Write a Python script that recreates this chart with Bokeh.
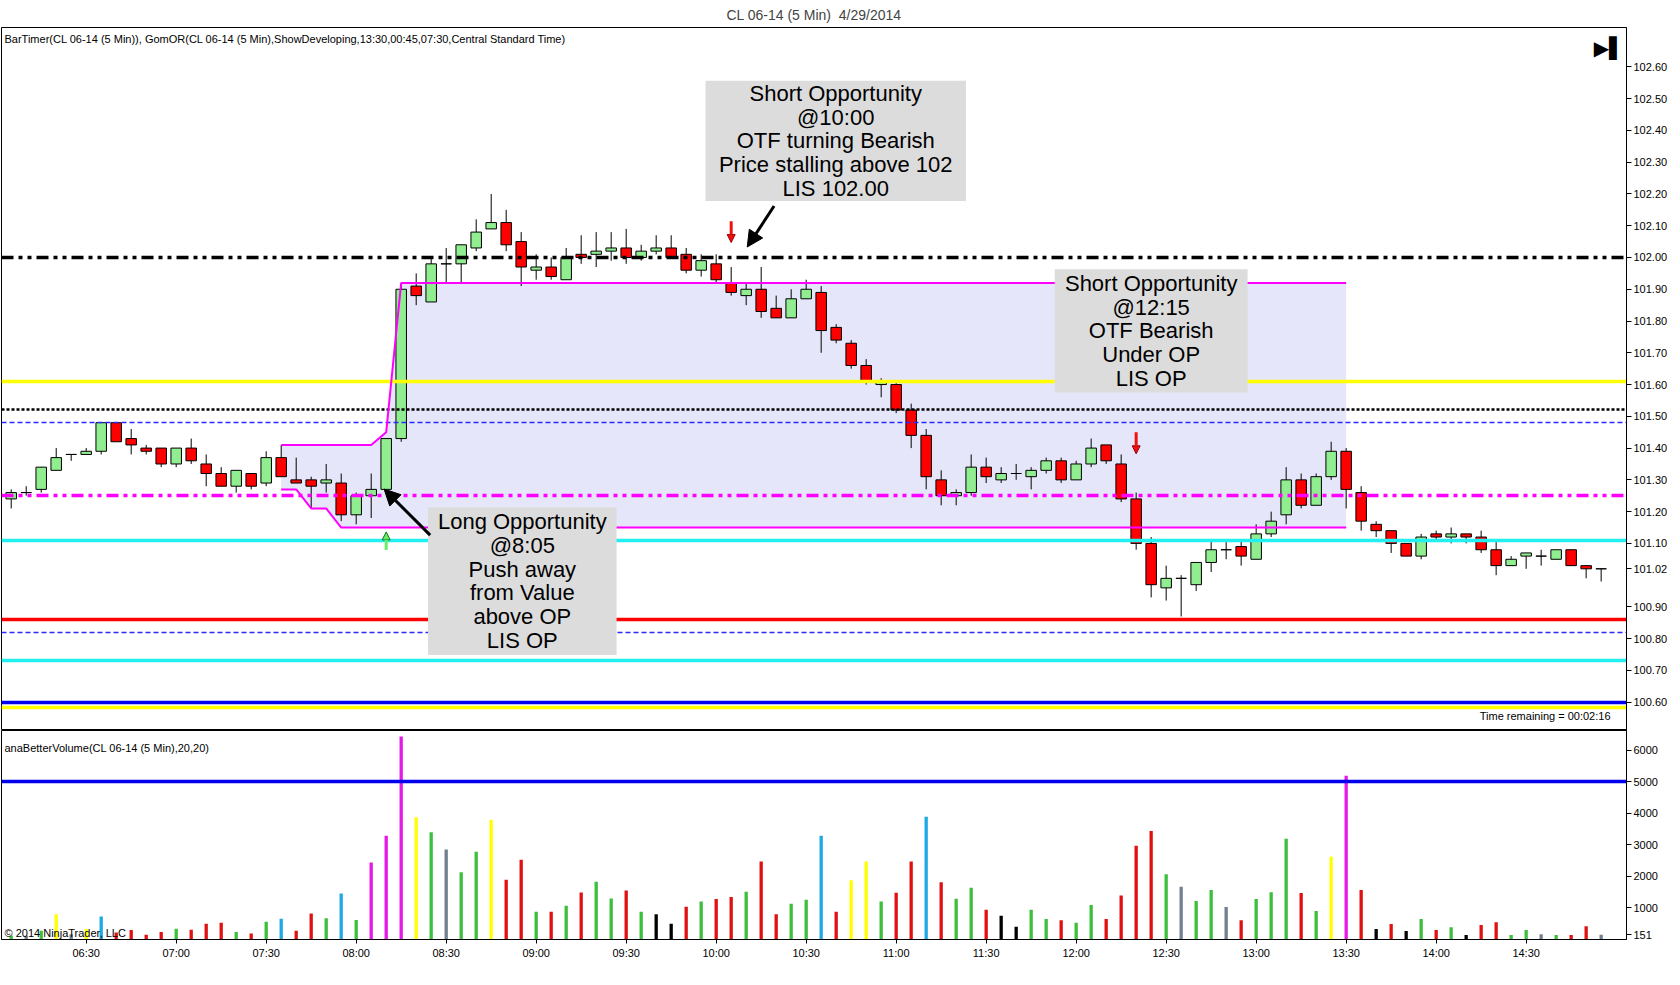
from bokeh.plotting import figure
from bokeh.models import (ColumnDataSource, FixedTicker, Label, Arrow, NormalHead,
                          Range1d, PrintfTickFormatter)
from bokeh.layouts import column
from bokeh.embed import file_html
from bokeh.resources import INLINE
from bokeh.core.properties import value

# ---------------- texts ----------------
TITLE = "CL 06-14 (5 Min)\u00a0\u00a04/29/2014"
PRICE_INDICATORS = ("BarTimer(CL 06-14 (5 Min)), GomOR(CL 06-14 (5 Min),ShowDeveloping,"
                    "13:30,00:45,07:30,Central Standard Time)")
VOLUME_INDICATOR = "anaBetterVolume(CL 06-14 (5 Min),20,20)"
COPYRIGHT = "\u00a9 2014 NinjaTrader, LLC"
TIME_REMAINING = "Time remaining = 00:02:16"

# ---------------- data ----------------
FIRST_BAR_MINUTES = 6 * 60 + 5   # 06:05
BAR_MINUTES = 5

OPEN = [101.24, 101.26, 101.27, 101.33, 101.38, 101.38, 101.39, 101.48, 101.43, 101.40,
        101.40, 101.35, 101.40, 101.35, 101.32, 101.28, 101.32, 101.29, 101.37, 101.30,
        101.30, 101.29, 101.29, 101.19, 101.25, 101.27, 101.43, 101.91, 101.86, 101.98,
        101.98, 102.03, 102.09, 102.11, 102.05, 101.96, 101.97, 101.93, 102.01, 102.01,
        102.02, 102.03, 102.00, 102.02, 102.03, 102.01, 101.96, 101.98, 101.92, 101.88,
        101.90, 101.84, 101.81, 101.87, 101.89, 101.78, 101.73, 101.66, 101.60, 101.60,
        101.52, 101.44, 101.30, 101.25, 101.26, 101.34, 101.30, 101.32, 101.31, 101.33,
        101.36, 101.30, 101.35, 101.41, 101.35, 101.24, 101.10, 100.96, 100.99, 100.97,
        101.04, 101.08, 101.09, 101.05, 101.13, 101.19, 101.30, 101.22, 101.31, 101.39,
        101.26, 101.16, 101.14, 101.10, 101.06, 101.13, 101.12, 101.13, 101.12, 101.08,
        101.03, 101.06, 101.06, 101.05, 101.08, 101.03, 101.02]
HIGH = [101.27, 101.28, 101.34, 101.40, 101.38, 101.40, 101.48, 101.48, 101.46, 101.41,
        101.40, 101.40, 101.43, 101.38, 101.34, 101.33, 101.32, 101.39, 101.41, 101.37,
        101.31, 101.35, 101.32, 101.26, 101.32, 101.43, 101.92, 101.95, 102.00, 102.03,
        102.04, 102.12, 102.20, 102.15, 102.08, 102.01, 102.00, 102.03, 102.07, 102.08,
        102.08, 102.09, 102.04, 102.07, 102.07, 102.03, 102.01, 102.01, 101.97, 101.92,
        101.97, 101.88, 101.90, 101.93, 101.91, 101.79, 101.74, 101.68, 101.62, 101.61,
        101.54, 101.46, 101.33, 101.27, 101.38, 101.37, 101.34, 101.35, 101.34, 101.37,
        101.37, 101.36, 101.43, 101.41, 101.38, 101.26, 101.12, 101.03, 101.00, 101.04,
        101.11, 101.11, 101.11, 101.16, 101.20, 101.34, 101.32, 101.32, 101.42, 101.40,
        101.28, 101.17, 101.14, 101.10, 101.13, 101.14, 101.15, 101.13, 101.14, 101.11,
        101.06, 101.07, 101.08, 101.08, 101.08, 101.03, 101.02]
LOW = [101.21, 101.25, 101.26, 101.33, 101.36, 101.38, 101.38, 101.42, 101.38, 101.38,
       101.34, 101.34, 101.35, 101.28, 101.28, 101.26, 101.27, 101.28, 101.31, 101.29,
       101.21, 101.26, 101.17, 101.16, 101.18, 101.26, 101.42, 101.85, 101.86, 101.92,
       101.92, 102.02, 102.09, 102.02, 101.91, 101.93, 101.93, 101.93, 101.98, 101.97,
       101.99, 101.98, 101.99, 102.01, 102.00, 101.95, 101.94, 101.92, 101.88, 101.85,
       101.81, 101.81, 101.81, 101.87, 101.70, 101.73, 101.65, 101.60, 101.56, 101.51,
       101.40, 101.27, 101.22, 101.22, 101.25, 101.29, 101.29, 101.30, 101.27, 101.32,
       101.29, 101.30, 101.34, 101.35, 101.23, 101.08, 100.93, 100.92, 100.87, 100.95,
       101.01, 101.05, 101.03, 101.05, 101.12, 101.16, 101.21, 101.22, 101.30, 101.21,
       101.14, 101.12, 101.07, 101.06, 101.05, 101.11, 101.10, 101.10, 101.07, 101.00,
       101.03, 101.02, 101.03, 101.05, 101.03, 100.99, 100.98]
CLOSE = [101.26, 101.26, 101.34, 101.37, 101.38, 101.39, 101.48, 101.42, 101.41, 101.39,
         101.35, 101.40, 101.36, 101.32, 101.28, 101.33, 101.28, 101.37, 101.31, 101.29,
         101.28, 101.30, 101.19, 101.25, 101.27, 101.43, 101.90, 101.88, 101.98, 101.98,
         102.04, 102.08, 102.11, 102.04, 101.97, 101.97, 101.94, 102.00, 102.00, 102.02,
         102.03, 102.00, 102.02, 102.03, 102.00, 101.96, 101.99, 101.93, 101.89, 101.90,
         101.83, 101.81, 101.87, 101.90, 101.77, 101.74, 101.66, 101.61, 101.61, 101.52,
         101.44, 101.31, 101.25, 101.26, 101.34, 101.31, 101.32, 101.32, 101.33, 101.36,
         101.30, 101.35, 101.40, 101.36, 101.24, 101.10, 100.97, 100.99, 100.99, 101.04,
         101.08, 101.08, 101.06, 101.13, 101.17, 101.30, 101.22, 101.31, 101.39, 101.27,
         101.17, 101.14, 101.10, 101.06, 101.12, 101.12, 101.13, 101.12, 101.08, 101.03,
         101.05, 101.07, 101.06, 101.08, 101.03, 101.02, 101.02]

VOLUME = [120, 120, 280, 800, 170, 330, 730, 220, 300, 150,
          240, 340, 310, 500, 530, 240, 190, 560, 660, 280,
          820, 670, 1460, 620, 2440, 3290, 6430, 3870, 3400, 2850,
          2130, 2780, 3790, 1890, 2530, 880, 880, 1070, 1490, 1830,
          1300, 1550, 880, 800, 500, 1040, 1200, 1280, 1350, 1510,
          2470, 800, 1130, 1260, 3290, 880, 1880, 2470, 1200, 1480,
          2470, 3890, 1810, 1290, 1640, 940, 750, 400, 940, 650,
          610, 530, 1090, 650, 1390, 2970, 3440, 2070, 1670, 1220,
          1570, 1030, 610, 1280, 1500, 3190, 1470, 900, 2620, 5190,
          1570, 330, 490, 270, 650, 300, 390, 140, 460, 550,
          140, 300, 170, 140, 140, 420, 151]
# volume class: g=up, r=down, y=high-vol up, b=high-vol down, m=climax, s=neutral, k=low volume
VOLUME_CLASS = ["g", "s", "g", "y", "s", "y", "b", "r", "r", "r",
                "r", "g", "r", "r", "r", "g", "r", "g", "b", "r",
                "r", "g", "b", "g", "m", "m", "m", "y", "g", "s",
                "g", "g", "y", "r", "r", "g", "r", "g", "r", "g",
                "g", "r", "g", "k", "k", "r", "g", "r", "r", "g",
                "r", "r", "g", "g", "b", "r", "y", "y", "g", "r",
                "r", "b", "r", "g", "g", "r", "k", "k", "g", "g",
                "r", "g", "g", "r", "r", "r", "r", "g", "s", "g",
                "g", "s", "r", "g", "g", "g", "r", "g", "y", "m",
                "r", "k", "r", "k", "g", "r", "g", "k", "r", "r",
                "g", "g", "s", "g", "r", "r", "s"]

# GomOR developing opening range (bars 18..89)
OR_FIRST_BAR = 18
OR_UPPER = [101.41] * 7 + [101.45] + [101.92] * 64
OR_LOWER = [101.27, 101.27, 101.21, 101.21] + [101.15] * 68

# horizontal levels: price, colour, width, dash
LEVELS = [
    (102.00, "black", 3.5, "12 5 4 5 4 5"),
    (101.61, "#FFFF00", 3.5, "solid"),
    (101.52, "black", 2.5, "3 2"),
    (101.48, "#2828FF", 1.5, "5 3"),
    (101.25, "#FF00FF", 3.5, "12 5 4 5 4 5"),
    (101.11, "#22F0F0", 3.5, "solid"),
    (100.86, "#FF0000", 3.5, "solid"),
    (100.82, "#2828FF", 1.5, "5 3"),
    (100.73, "#22F0F0", 3.5, "solid"),
    (100.583, "#FFFF00", 3.5, "solid"),
    (100.60, "#0000EE", 3.5, "solid"),
]
VOLUME_LEVEL = 5000
LAST_PRICE = 101.02
LAST_VOLUME = 151

PRICE_TICKS = [100.60, 100.70, 100.80, 100.90, 101.00, 101.10, 101.20, 101.30, 101.40, 101.50,
               101.60, 101.70, 101.80, 101.90, 102.00, 102.10, 102.20, 102.30, 102.40, 102.50, 102.60]
VOLUME_TICKS = [1000, 2000, 3000, 4000, 5000, 6000]
TIME_TICKS = ["06:30", "07:00", "07:30", "08:00", "08:30", "09:00", "09:30", "10:00", "10:30",
              "11:00", "11:30", "12:00", "12:30", "13:00", "13:30", "14:00", "14:30"]

# trade notes: text, box (left bar, right bar, bottom price, top price)
NOTES = [
    ("Short Opportunity\n@10:00\nOTF turning Bearish\nPrice stalling above 102\nLIS 102.00",
     (46.29, 63.65, 102.178, 102.556)),
    ("Short Opportunity\n@12:15\nOTF Bearish\nUnder OP\nLIS OP",
     (69.57, 82.43, 101.575, 101.963)),
    ("Long Opportunity\n@8:05\nPush away\nfrom Value\nabove OP\nLIS OP",
     (27.79, 40.36, 100.749, 101.214)),
]
# pointer arrows: (x_start, y_start, x_end, y_end)
BLACK_ARROWS = [(50.86, 102.162, 49.07, 102.033), (27.93, 101.126, 24.86, 101.271)]
SIGNAL_ARROWS = [(48, 102.114, 48, 102.047, "down"), (75, 101.450, 75, 101.382, "down"),
                 (25, 101.079, 25, 101.136, "up")]

# ---------------- styling ----------------
FONT = "Liberation Sans"
FW = 1625
FH_P = 703
FH_V = 209
X_RANGE = Range1d(-0.647, 107.69)

n = len(OPEN)
xs = list(range(n))
times = []
for i in xs:
    m = FIRST_BAR_MINUTES + BAR_MINUTES * i
    times.append("%02d:%02d" % (m // 60, m % 60))
tick_pos = [i for i, t in enumerate(times) if t in TIME_TICKS]

body_color = []
for o, c in zip(OPEN, CLOSE):
    if c > o:
        body_color.append("#90EE90")
    elif c < o:
        body_color.append("#FF0000")
    else:
        body_color.append("black")

candles = ColumnDataSource(dict(
    x=xs, high=HIGH, low=LOW,
    top=[max(o, c) for o, c in zip(OPEN, CLOSE)],
    bottom=[min(o, c) for o, c in zip(OPEN, CLOSE)],
    color=body_color))

VCOL = {"g": "#3CBF3C", "r": "#E01010", "y": "#FFFF00", "b": "#1EA8E6",
        "m": "#E619E6", "s": "#708090", "k": "black"}
vol_src = ColumnDataSource(dict(x=xs, v=VOLUME, color=[VCOL[c] for c in VOLUME_CLASS]))


def label(fig, **kw):
    base = dict(x_units="screen", y_units="screen", text_font=FONT, text_color="black",
                text_font_size="11px", text_baseline="middle")
    base.update(kw)
    fig.add_layout(Label(**base))


def style_axis(ax):
    ax.major_label_text_font = FONT
    ax.major_label_text_font_size = "11px"
    ax.major_label_text_color = "black"
    ax.major_tick_in = 0
    ax.minor_tick_out = 0
    ax.minor_tick_in = 0
    ax.axis_line_color = "black"
    ax.major_tick_line_color = "black"


# ---------------- price panel ----------------
p = figure(frame_width=FW, frame_height=FH_P, x_range=X_RANGE,
           y_range=Range1d(100.511, 102.724), output_backend="svg",
           toolbar_location=None, x_axis_location=None, y_axis_location="right",
           min_border_left=1, min_border_right=50, min_border_top=27, min_border_bottom=0)
p.grid.visible = False
p.outline_line_color = "black"
p.background_fill_color = "white"
p.border_fill_color = "white"
p.title.text = TITLE
p.title.align = "center"
p.title.offset = 22
p.title.text_font = FONT
p.title.text_font_size = "14px"
p.title.text_font_style = "normal"
p.title.standoff = 9

price_ticks = [t for t in PRICE_TICKS if abs(t - LAST_PRICE) > 0.05] + [LAST_PRICE]
ya = p.yaxis[0]
ya.ticker = FixedTicker(ticks=price_ticks)
ya.formatter = PrintfTickFormatter(format="%.2f")
style_axis(ya)
ya.major_tick_out = 5
ya.major_label_standoff = 2

or_x = list(range(OR_FIRST_BAR, OR_FIRST_BAR + len(OR_UPPER)))
p.varea(x=or_x, y1=OR_LOWER, y2=OR_UPPER, fill_color="#E6E6FA")

p.segment(x0="x", y0="high", x1="x", y1="low", source=candles, line_color="black", line_width=1)
p.vbar(x="x", width=0.7, top="top", bottom="bottom", source=candles,
       fill_color="color", line_color="black", line_width=1)

for price, col, lw, dash in LEVELS:
    p.hspan(y=[price], line_color=col, line_width=lw, line_dash=dash)

p.line(or_x, OR_UPPER, line_color="#FF00FF", line_width=2)
p.line(or_x, OR_LOWER, line_color="#FF00FF", line_width=2)

for text, (l, r, b, t) in NOTES:
    p.quad(left=[l], right=[r], bottom=[b], top=[t], fill_color="#DCDCDC", line_color=None)
    p.text(x=[(l + r) / 2], y=[(b + t) / 2], text=[text], text_align="center",
           text_baseline="middle", text_font=value(FONT), text_font_size="22px",
           text_line_height=0.95, text_color="black")

for x0, y0, x1, y1 in BLACK_ARROWS:
    p.add_layout(Arrow(end=NormalHead(size=16, fill_color="black", line_color="black"),
                       x_start=x0, y_start=y0, x_end=x1, y_end=y1,
                       line_color="black", line_width=3))
for x0, y0, x1, y1, d in SIGNAL_ARROWS:
    fc, lc = ("#EE1111", "#990000") if d == "down" else ("#66EE66", "#117711")
    p.add_layout(Arrow(end=NormalHead(size=8, fill_color=fc, line_color=lc, line_width=1),
                       x_start=x0, y_start=y0, x_end=x1, y_end=y1,
                       line_color=fc, line_width=3))

label(p, x=3, y=FH_P - 11.5, text=PRICE_INDICATORS)
label(p, x=FW - 16, y=15, text=TIME_REMAINING, text_align="right")
label(p, x=FW - 2, y=FH_P - 20, text="\u25B6\u258C", text_align="right",
      text_font="DejaVu Sans", text_font_size="20px")

# ---------------- volume panel ----------------
v = figure(frame_width=FW, frame_height=FH_V, x_range=X_RANGE, y_range=Range1d(0, 6620),
           output_backend="svg", toolbar_location=None, y_axis_location="right",
           min_border_left=1, min_border_right=50, min_border_top=0, min_border_bottom=30)
v.grid.visible = False
v.outline_line_color = "black"
v.background_fill_color = "white"
v.border_fill_color = "white"

vy = v.yaxis[0]
vy.ticker = FixedTicker(ticks=VOLUME_TICKS + [LAST_VOLUME])
vy.formatter = PrintfTickFormatter(format="%d")
style_axis(vy)
vy.major_tick_out = 5
vy.major_label_standoff = 2

vx = v.xaxis[0]
vx.ticker = FixedTicker(ticks=tick_pos)
vx.major_label_overrides = {i: times[i] for i in tick_pos}
style_axis(vx)
vx.major_tick_out = 4
vx.major_label_standoff = 3

v.vbar(x="x", width=0.22, top="v", bottom=0, source=vol_src, fill_color="color", line_color=None)
v.hspan(y=[VOLUME_LEVEL], line_color="#0000EE", line_width=3.5)

label(v, x=3, y=FH_V - 17, text=VOLUME_INDICATOR)
label(v, x=3, y=7, text=COPYRIGHT)

layout = column(p, v, spacing=0)
open("out.html", "w").write(file_html(layout, INLINE))
